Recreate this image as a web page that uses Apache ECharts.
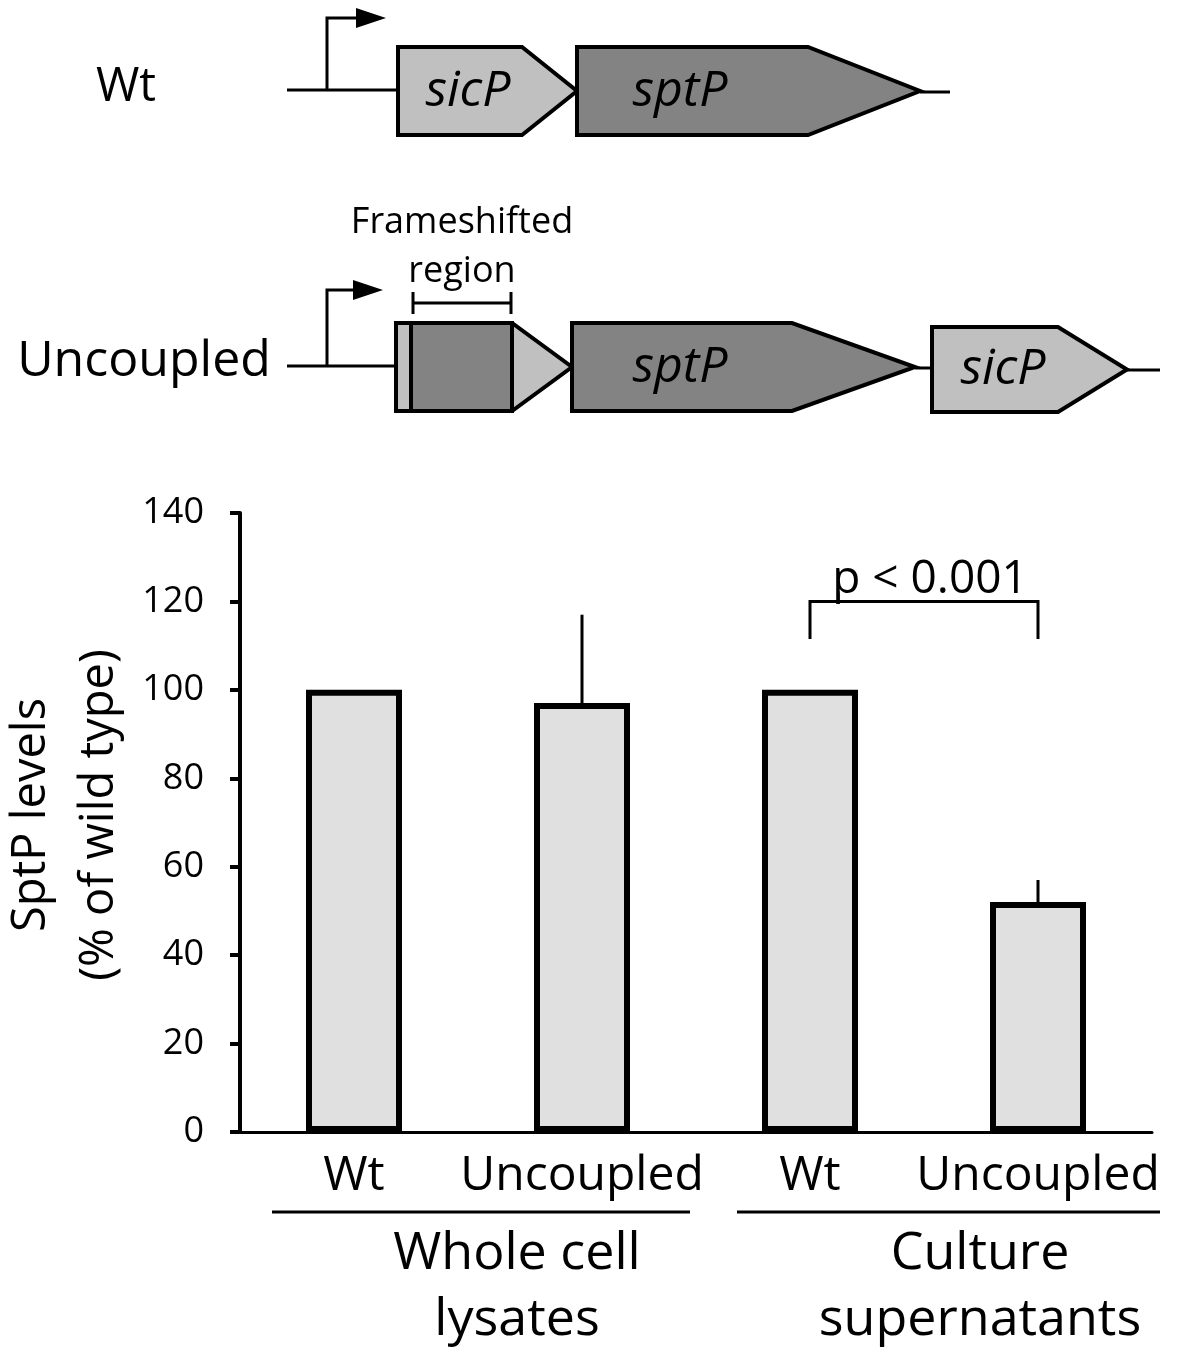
<!DOCTYPE html>
<html>
<head>
<meta charset="utf-8">
<script src="https://cdn.jsdelivr.net/npm/echarts@6/dist/echarts.min.js"></script>
<style>
  html, body { margin: 0; padding: 0; background: #fff; }
  #chart { width: 1192px; height: 1349px; }
</style>
</head>
<body>
<div id="chart"></div>
<script>
const categories = [ 'Wt', 'Uncoupled', 'Wt', 'Uncoupled' ];
const levels = [ 100, 97, 100, 52 ];
const errors = [ 0, 20, 0, 5 ];
const yTicks = { min: 0, max: 140, interval: 20 };
// significance bracket: [fromIndex, toIndex, legBottom, barTop]
const bracket = [ [ 2, 3, 111.5, 120 ] ];
const bracketLabel = 'p < 0.001';
const groups = [ 'Whole cell\nlysates', 'Culture\nsupernatants' ];

const SANS = '"Open Sans", "Noto Sans", sans-serif';
const LIGHT = '#c0c0c0';
const DARK = '#838383';

const chart = echarts.init( document.getElementById( 'chart' ), null, { renderer: 'canvas' } );

// gene arrow: body from x0 to x1, tip at xt
const gene = ( x0, x1, xt, top, bottom, fill ) => ( {
	type: 'polygon',
	shape: { points: [ [ x0, top ], [ x1, top ], [ xt, ( top + bottom ) / 2 ], [ x1, bottom ], [ x0, bottom ] ] },
	style: { fill, stroke: '#000', lineWidth: 4, lineJoin: 'miter' },
	z: 10
} );

const line = ( pts, w ) => ( {
	type: 'polyline',
	shape: { points: pts },
	style: { stroke: '#000', lineWidth: w || 3, fill: null },
	z: 5
} );

const promoter = ( x, yBase, yTop, xEnd ) => [
	line( [ [ x, yBase ], [ x, yTop ], [ xEnd - 26, yTop ] ], 3 ),
	{
		type: 'polygon',
		shape: { points: [ [ xEnd - 30, yTop - 10 ], [ xEnd, yTop ], [ xEnd - 30, yTop + 10 ] ] },
		style: { fill: '#000' },
		z: 6
	}
];

const text = ( str, x, y, size, extra ) => ( {
	type: 'text',
	x, y,
	style: Object.assign( {
		text: str,
		fontFamily: SANS,
		fontSize: size,
		fill: '#000',
		align: 'center',
		verticalAlign: 'middle'
	}, extra || {} ),
	z: 20
} );

const geneLabel = ( str, x, y ) => text( str, x, y, 50, { fontStyle: 'italic' } );

const yTitle = text( 'SptP levels\n(% of wild type)', 66, 815, 47, { lineHeight: 68 } );
yTitle.rotation = Math.PI / 2;

const diagram = [
	// Wt construct
	text( 'Wt', 126, 88, 47 ),
	line( [ [ 287, 90 ], [ 398, 90 ] ] ),
	line( [ [ 920, 92 ], [ 950, 92 ] ] ),
	...promoter( 327, 90, 18, 386 ),
	gene( 398, 522, 577, 47, 135, LIGHT ),
	gene( 577, 808, 920, 47, 135, DARK ),
	geneLabel( 'sicP', 468, 92 ),
	geneLabel( 'sptP', 680, 92 ),

	// Uncoupled construct
	text( 'Uncoupled', 144, 362, 50 ),
	line( [ [ 287, 366 ], [ 396, 366 ] ] ),
	line( [ [ 915, 368 ], [ 934, 368 ] ] ),
	line( [ [ 1127, 370 ], [ 1160, 370 ] ] ),
	...promoter( 327, 366, 290, 383 ),
	gene( 396, 512, 572, 323, 411, LIGHT ),
	{
		type: 'rect',
		shape: { x: 411, y: 323, width: 101, height: 88 },
		style: { fill: DARK, stroke: '#000', lineWidth: 4 },
		z: 11
	},
	gene( 572, 792, 915, 323, 411, DARK ),
	gene( 932, 1058, 1127, 327, 412, LIGHT ),
	geneLabel( 'sptP', 680, 368 ),
	geneLabel( 'sicP', 1003, 370 ),

	// frameshift annotation
	text( 'Frameshifted', 462, 223, 36 ),
	text( 'region', 462, 272, 36 ),
	line( [ [ 413, 303 ], [ 511, 303 ] ] ),
	line( [ [ 413, 292 ], [ 413, 314 ] ] ),
	line( [ [ 511, 292 ], [ 511, 314 ] ] ),

	yTitle
];

// group underlines and labels below the category axis
const groupGraphics = [
	line( [ [ 272, 1212 ], [ 690, 1212 ] ] ),
	line( [ [ 737, 1212 ], [ 1160, 1212 ] ] ),
	text( groups[ 0 ], 517, 1287, 52, { lineHeight: 66 } ),
	text( groups[ 1 ], 980, 1287, 52, { lineHeight: 66 } )
];

const renderError = ( params, api ) => {
	const i = api.value( 0 );
	const err = api.value( 2 );
	if ( !err ) {
		return null;
	}
	const base = api.coord( [ i, api.value( 1 ) ] );
	const top = api.coord( [ i, api.value( 1 ) + err ] );
	return {
		type: 'line',
		shape: { x1: base[ 0 ], y1: base[ 1 ], x2: top[ 0 ], y2: top[ 1 ] },
		style: { stroke: '#000', lineWidth: 3 }
	};
};

const renderBracket = ( params, api ) => {
	const a = api.value( 0 );
	const b = api.value( 1 );
	const low = api.value( 2 );
	const high = api.value( 3 );
	const p1 = api.coord( [ a, low ] );
	const p2 = api.coord( [ a, high ] );
	const p3 = api.coord( [ b, high ] );
	const p4 = api.coord( [ b, low ] );
	return {
		type: 'group',
		children: [
			{
				type: 'polyline',
				shape: { points: [ p1, p2, p3, p4 ] },
				style: { stroke: '#000', lineWidth: 3, fill: null }
			},
			{
				type: 'text',
				x: ( p2[ 0 ] + p3[ 0 ] ) / 2 + 6,
				y: p2[ 1 ] - 22,
				style: {
					text: bracketLabel,
					fontFamily: SANS,
					fontSize: 46,
					fill: '#000',
					align: 'center',
					verticalAlign: 'middle'
				}
			}
		]
	};
};

chart.setOption( {
	animation: false,
	backgroundColor: '#fff',
	grid: { left: 240, right: 40, top: 513, bottom: 217 },
	xAxis: {
		type: 'category',
		data: categories,
		axisLine: { lineStyle: { color: '#000', width: 3 } },
		axisTick: { show: false },
		axisLabel: {
			interval: 0,
			color: '#000',
			fontFamily: SANS,
			fontSize: 48,
			margin: 20
		}
	},
	yAxis: {
		type: 'value',
		min: yTicks.min,
		max: yTicks.max,
		interval: yTicks.interval,
		splitLine: { show: false },
		axisLine: { show: true, lineStyle: { color: '#000', width: 4 } },
		axisTick: { show: true, length: 10, lineStyle: { color: '#000', width: 4 } },
		axisLabel: {
			color: '#000',
			fontFamily: SANS,
			fontSize: 36,
			margin: 36
		}
	},
	series: [
		{
			type: 'bar',
			data: levels,
			barWidth: 96,
			itemStyle: { color: '#e0e0e0', borderColor: '#000', borderWidth: 6 },
			z: 3
		},
		{
			type: 'custom',
			renderItem: renderError,
			data: levels.map( ( v, i ) => [ i, v, errors[ i ] ] ),
			z: 2
		},
		{
			type: 'custom',
			renderItem: renderBracket,
			data: bracket,
			z: 4
		}
	],
	graphic: diagram.concat( groupGraphics )
} );
</script>
</body>
</html>
